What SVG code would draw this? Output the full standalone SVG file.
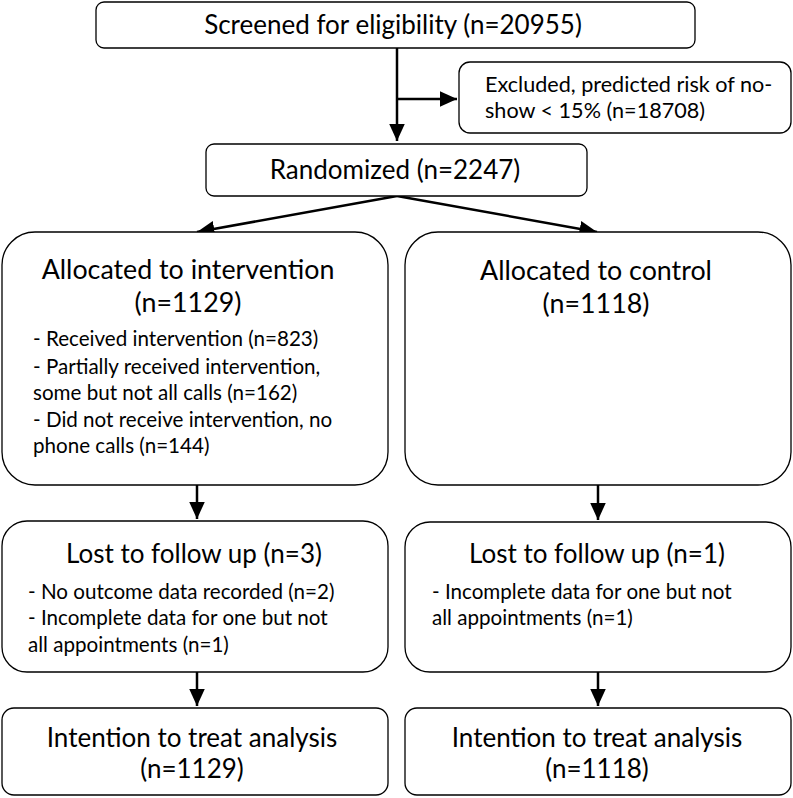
<svg xmlns="http://www.w3.org/2000/svg" width="793" height="798" viewBox="0 0 793 798">
<style>
.box{fill:#fff;stroke:#000;stroke-width:1.3}
text{font-family:Lato,"Open Sans","Liberation Sans",sans-serif;fill:#000}
.t{font-size:26px;text-anchor:middle}
.a{font-size:26.8px}
.s{font-size:20.6px}
.e{font-size:21.6px}
.c{stroke:#000;stroke-width:2.5;fill:none}
</style>
<defs>
<marker id="ah" markerWidth="7" markerHeight="6.4" refX="7" refY="3.2" orient="auto" markerUnits="strokeWidth">
<path d="M0,0 L7,3.2 L0,6.4 Z" fill="#000"/>
</marker>
</defs>
<g id="connectors">
<line class="c" x1="397" y1="48" x2="397" y2="141" marker-end="url(#ah)"/>
<line class="c" x1="397" y1="99" x2="457" y2="99" marker-end="url(#ah)"/>
<line class="c" x1="397" y1="196" x2="197" y2="232" marker-end="url(#ah)"/>
<line class="c" x1="397" y1="196" x2="597" y2="232" marker-end="url(#ah)"/>
<line class="c" x1="197" y1="485" x2="197" y2="519" marker-end="url(#ah)"/>
<line class="c" x1="598" y1="485" x2="598" y2="520" marker-end="url(#ah)"/>
<line class="c" x1="197" y1="672" x2="197" y2="706" marker-end="url(#ah)"/>
<line class="c" x1="598" y1="672" x2="598" y2="706" marker-end="url(#ah)"/>
</g>
<g id="screened">
<rect class="box" x="96" y="2" width="599" height="46" rx="8"/>
<text class="t" x="393" y="34">Screened for eligibility (n=20955)</text>
</g>
<g id="excluded">
<rect class="box" x="459" y="62" width="332" height="71" rx="11"/>
<text class="e" x="485" y="92">Excluded, predicted risk of no-</text>
<text class="e" x="485" y="118">show &lt; 15% (n=18708)</text>
</g>
<g id="randomized">
<rect class="box" x="206" y="144" width="381" height="52" rx="8"/>
<text class="t" x="395" y="179">Randomized (n=2247)</text>
</g>
<g id="alloc-int">
<rect class="box" x="2" y="232" width="386" height="253" rx="33"/>
<text class="t a" x="188" y="279">Allocated to intervention</text>
<text class="t a" x="188" y="312">(n=1129)</text>
<text class="s" x="33" y="346">- Received intervention (n=823)</text>
<text class="s" x="33" y="374">- Partially received intervention,</text>
<text class="s" x="33" y="400">some but not all calls (n=162)</text>
<text class="s" x="33" y="427">- Did not receive intervention, no</text>
<text class="s" x="33" y="453">phone calls (n=144)</text>
</g>
<g id="alloc-ctl">
<rect class="box" x="405" y="232" width="386" height="253" rx="33"/>
<text class="t a" x="596" y="280">Allocated to control</text>
<text class="t a" x="596" y="313">(n=1118)</text>
</g>
<g id="lost-int">
<rect class="box" x="2" y="521" width="386" height="151" rx="25"/>
<text class="t" x="194" y="563">Lost to follow up (n=3)</text>
<text class="s" x="28" y="599">- No outcome data recorded (n=2)</text>
<text class="s" x="28" y="625">- Incomplete data for one but not</text>
<text class="s" x="28" y="652">all appointments (n=1)</text>
</g>
<g id="lost-ctl">
<rect class="box" x="405" y="522" width="386" height="150" rx="25"/>
<text class="t" x="597" y="563">Lost to follow up (n=1)</text>
<text class="s" x="432" y="599">- Incomplete data for one but not</text>
<text class="s" x="432" y="625">all appointments (n=1)</text>
</g>
<g id="itt-int">
<rect class="box" x="2" y="708" width="386" height="87" rx="12"/>
<text class="t" x="192" y="747">Intention to treat analysis</text>
<text class="t" x="192" y="778">(n=1129)</text>
</g>
<g id="itt-ctl">
<rect class="box" x="405" y="708" width="386" height="87" rx="12"/>
<text class="t" x="597" y="747">Intention to treat analysis</text>
<text class="t" x="597" y="778">(n=1118)</text>
</g>
</svg>
